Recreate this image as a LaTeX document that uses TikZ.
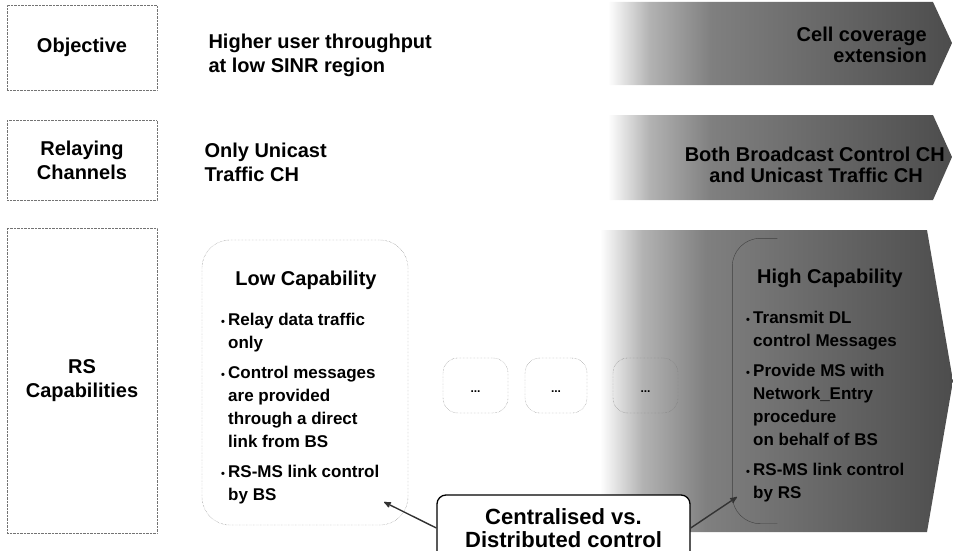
\documentclass[tikz,border=0pt]{standalone}
\usepackage{fontspec}
\setmainfont{Liberation Sans}
\usetikzlibrary{arrows}
\usetikzlibrary{calc}
\usetikzlibrary{positioning}

% small bullet with a fixed hanging indent
\newcommand{\capitem}{\makebox[7pt][l]{\fontsize{11}{11}\selectfont\textbullet}}
\newcommand{\capindent}{\hspace*{7pt}}

% grey fade of the arrows, white on the left
\pgfdeclarehorizontalshading{rowfade}{100bp}{color(0bp)=(white); color(25bp)=(white);
  color(31bp)=(black!30); color(40bp)=(black!50); color(75bp)=(black!70); color(100bp)=(black!70)}

\begin{document}
\begin{tikzpicture}
[>=stealth',x=1pt,y=-1pt,
 rowbox/.style={draw=black!55,densely dotted,minimum width=150,align=center,font=\fontsize{20}{24}\selectfont\bfseries},
 rowtext/.style={anchor=west,align=left,font=\fontsize{20}{24}\selectfont\bfseries},
 arrowtext/.style={anchor=east,align=right,inner sep=0,font=\fontsize{20}{21}\selectfont\bfseries},
 capbox/.style={draw=black!55,densely dotted,rounded corners=28,minimum width=206,minimum height=285},
 dotsbox/.style={draw=black!55,densely dotted,rounded corners=15,minimum height=55,text height=13,text depth=0,font=\fontsize{12}{14}\selectfont\bfseries},
 captitle/.style={font=\fontsize{20}{24}\selectfont\bfseries},
 capitems/.style={anchor=north west,align=left,inner sep=0,font=\fontsize{17}{23}\selectfont\bfseries},
 notebox/.style={draw,fill=white,line width=1.3pt,rounded corners=9,minimum width=253,minimum height=66,align=center,font=\fontsize{22}{23}\selectfont\bfseries},
 shadearrow/.style={shading=rowfade}]

\useasboundingbox (0,0) rectangle (953,551);

% shaded arrows towards the high end
\shade[shadearrow] (608,2) -- (933,2) -- (952,43) -- (933,85) -- (608,85) -- cycle;
\shade[shadearrow] (608,115) -- (933,115) -- (952,157) -- (933,200) -- (608,200) -- cycle;
\shade[shadearrow] (600,230) -- (927,230) -- (953,381) -- (927,532) -- (600,532) -- cycle;

% row headers
\node[rowbox,minimum height=85] (obj) at (82,47.5) {Objective};
\node[rowbox,minimum height=80] (relay) at (82,160.5) {Relaying\\Channels};
\node[rowbox,minimum height=305] (rscap) at (82,380.5) {RS\\Capabilities};

% low end
\node[rowtext] (objlow) at (205,55) {Higher user throughput\\at low SINR region};
\node[rowtext] (relaylow) at (201,162) {Only Unicast\\Traffic CH};

% high end
\node[arrowtext] (objhigh) at (927,45) {Cell coverage\\extension};
\node[arrowtext] (relayhigh) at (945,165) {Both Broadcast Control CH\\and Unicast Traffic CH\hspace*{22pt}};

% low capability RS
\node[capbox] (low) at (305,382.5) {};
\node[captitle] (lowtitle) at (306,280) {Low Capability};
\node[capitems] (lowitems) at (221,313) {\capitem Relay data traffic\\
  \capindent only\\[7pt]
  \capitem Control messages\\
  \capindent are provided\\
  \capindent through a direct\\
  \capindent link from BS\\[7pt]
  \capitem RS-MS link control\\
  \capindent by BS};

% in between
\node[dotsbox,minimum width=65] (dots1) at (475.5,385.5) {...};
\node[dotsbox,minimum width=62] (dots2) at (556,385.5) {...};
\node[dotsbox,minimum width=65] (dots3) at (645.5,385.5) {...};

% high capability RS, only its left side shows
\node[minimum width=215,minimum height=285] (high) at (840,381) {};
\draw[black!75,rounded corners=28] ($(high.north west)+(45,0)$) -- (high.north west)
  -- (high.south west) -- ($(high.south west)+(45,0)$);
\node[captitle] (hightitle) at (830,278) {High Capability};
\node[capitems] (highitems) at (746,311) {\capitem Transmit DL\\
  \capindent control Messages\\[7pt]
  \capitem Provide MS with\\
  \capindent Network\_Entry\\
  \capindent procedure\\
  \capindent on behalf of BS\\[7pt]
  \capitem RS-MS link control\\
  \capindent by RS};

% centralised vs. distributed
\node[notebox] (ctrl) at (563.5,528) {Centralised vs.\\Distributed control};
\coordinate (lowtip) at (384,502);
\coordinate (hightip) at (737,497);
\draw[->,line width=1.4pt,black!80] (ctrl.west) -- (lowtip);
\draw[->,line width=1.4pt,black!80] (ctrl.east) -- (hightip);

\end{tikzpicture}
\end{document}
